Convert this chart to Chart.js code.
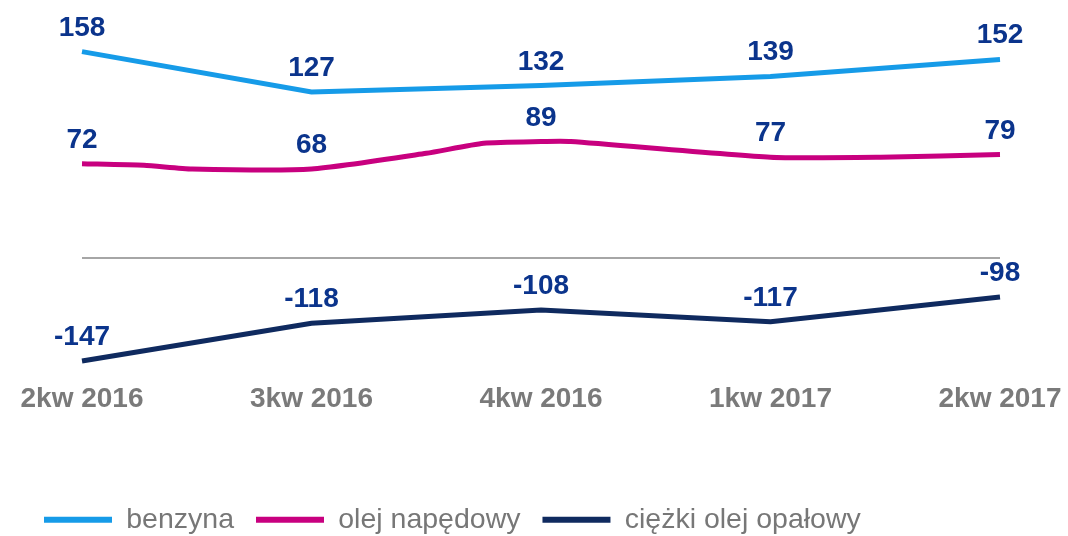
<!DOCTYPE html>
<html>
<head>
<meta charset="utf-8">
<script src="https://cdn.jsdelivr.net/npm/chart.js@4.4.1/dist/chart.umd.min.js"></script>
<style>
  html, body { margin: 0; padding: 0; background: #fff; overflow: hidden; }
  canvas { display: block; }
</style>
</head>
<body>
<canvas id="c" width="1068" height="544" style="width:1068px;height:544px"></canvas>
<script>
// ---- data ----
const quarterLabels = ['2kw 2016', '3kw 2016', '4kw 2016', '1kw 2017', '2kw 2017'];
const quarterPos = [0, 1, 2, 3, 4];
const benzyna = [158, 127, 132, 139, 152];
const olejPos = [0, 0.27, 0.48, 1, 1.5, 1.75, 2, 2.13, 3, 3.48, 4];
const olejNapedowy = [72, 70.8, 68, 68, 80, 87.7, 89, 89, 77, 77, 79];
const ciezkiOlej = [-147, -118, -108, -117, -98];
const seriesNames = ['benzyna', 'olej napędowy', 'ciężki olej opałowy'];

function pts(xs, ys) { return xs.map((x, i) => ({ x: x, y: ys[i] })); }

Chart.defaults.font.family = "'Liberation Sans', Arial, sans-serif";

const valueLabels = {
  id: 'valueLabels',
  afterDatasetsDraw(chart) {
    const ctx = chart.ctx;
    ctx.save();
    ctx.font = "bold 28px 'Liberation Sans', Arial, sans-serif";
    ctx.fillStyle = '#0b348c';
    ctx.textAlign = 'center';
    ctx.textBaseline = 'alphabetic';
    chart.data.datasets.forEach((ds, di) => {
      const meta = chart.getDatasetMeta(di);
      meta.data.forEach((el, i) => {
        const p = ds.data[i];
        if (!Number.isInteger(p.x)) return;
        ctx.fillText(String(Math.round(p.y)), el.x, el.y - 16);
      });
    });
    ctx.restore();
  }
};

new Chart(document.getElementById('c'), {
  type: 'line',
  data: {
    datasets: [
      { label: seriesNames[0], data: pts(quarterPos, benzyna), borderColor: '#169be8', backgroundColor: '#169be8',
        borderWidth: 5, pointRadius: 0, tension: 0, yAxisID: 'y', clip: false },
      { label: seriesNames[1], data: pts(olejPos, olejNapedowy), borderColor: '#c8007f', backgroundColor: '#c8007f',
        borderWidth: 5, pointRadius: 0, tension: 0.2, yAxisID: 'y', clip: false },
      { label: seriesNames[2], data: pts(quarterPos, ciezkiOlej), borderColor: '#0f2a5f', backgroundColor: '#0f2a5f',
        borderWidth: 5, pointRadius: 0, tension: 0, yAxisID: 'y2', clip: false }
    ]
  },
  options: {
    responsive: false,
    animation: false,
    devicePixelRatio: 1,
    layout: { padding: { left: 22, right: 0, top: 0, bottom: 0 } },
    plugins: {
      tooltip: { enabled: false },
      legend: {
        position: 'bottom',
        align: 'start',
        labels: {
          boxWidth: 68,
          boxHeight: 6,
          padding: 22,
          color: '#777777',
          font: { size: 28.5 },
          generateLabels: (chart) => Chart.defaults.plugins.legend.labels.generateLabels(chart)
            .map(l => Object.assign({}, l, { fillStyle: l.strokeStyle, lineWidth: 0 }))
        }
      }
    },
    scales: {
      x: {
        type: 'linear',
        min: 0,
        max: 4,
        grid: { display: false },
        border: { display: false },
        afterFit: (s) => { s.height = 112.5; },
        ticks: {
          stepSize: 1,
          padding: 3,
          color: '#7a7a7a',
          font: { size: 28, weight: 'bold' },
          maxRotation: 0,
          autoSkip: false,
          callback: (v) => quarterLabels[quarterPos.indexOf(v)] ?? ''
        }
      },
      y: {
        position: 'left',
        min: -87,
        max: 197.6,
        afterFit: (s) => { s.width = 60; },
        ticks: { display: false, stepSize: 50 },
        border: { display: false },
        grid: {
          drawTicks: false,
          lineWidth: 2,
          color: (c) => (c.tick && c.tick.value === 0) ? '#a6a6a6' : 'rgba(0,0,0,0)'
        }
      },
      y2: {
        position: 'right',
        min: -154.7,
        max: 129.9,
        afterFit: (s) => { s.width = 68; },
        ticks: { display: false },
        border: { display: false },
        grid: { display: false }
      }
    }
  },
  plugins: [valueLabels]
});
</script>
</body>
</html>
